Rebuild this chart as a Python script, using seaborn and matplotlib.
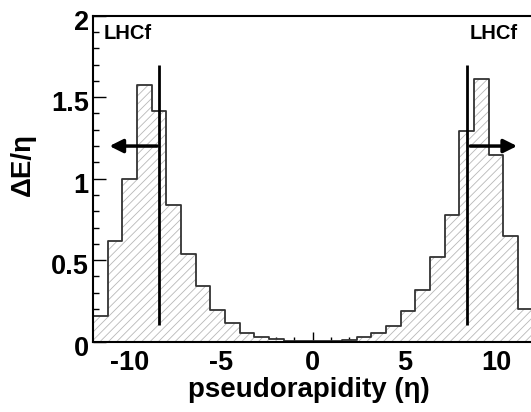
import numpy as np
import pandas as pd
import matplotlib
matplotlib.use("Agg")
import matplotlib.pyplot as plt
import matplotlib.ticker as mticker
import matplotlib.transforms as mtransforms
import seaborn as sns

# data: energy flow per unit pseudorapidity, 0.8 wide bins from -12 to 12
BIN_EDGES = list(np.linspace(-12, 12, 31))
DE_DETA = [0.16, 0.62, 1.0, 1.575, 1.415, 0.84, 0.535, 0.34, 0.197, 0.115,
           0.056, 0.027, 0.015, 0.006, 0.003, 0.002, 0.004, 0.009, 0.027, 0.054,
           0.099, 0.187, 0.32, 0.52, 0.777, 1.295, 1.61, 1.145, 0.65, 0.199]

# LHCf acceptance markers
LHCF_ETA = 8.4
LINE_Y = (0.1, 1.7)
ARROW_Y = 1.2
ARROW_LEFT = (-8.5, -11.1)
ARROW_RIGHT = (8.6, 11.15)
LABEL_POS = [(-11.42, 1.89), (8.58, 1.89)]

edges = np.array(BIN_EDGES)
centers = (edges[:-1] + edges[1:]) / 2
df = pd.DataFrame({"eta": centers, "dE": DE_DETA})

sns.set_style("ticks")
plt.rcParams["font.family"] = ["Liberation Sans", "DejaVu Sans"]
plt.rcParams.update({
    "font.weight": "bold",
    "axes.unicode_minus": False,
    "hatch.linewidth": 0.6,
    "text.color": "black",
    "axes.labelcolor": "black",
    "xtick.color": "black",
    "ytick.color": "black",
})

fig = plt.figure(figsize=(5.31, 4.12), dpi=100)
ax = fig.add_axes([0.1751, 0.1706, 0.828, 0.7915])

# hatched fill
sns.histplot(data=df, x="eta", weights="dE", bins=BIN_EDGES, element="step",
             fill=True, facecolor="white", edgecolor="#b8b8b8", hatch="////",
             linewidth=0, ax=ax)
# outline
sns.histplot(data=df, x="eta", weights="dE", bins=BIN_EDGES, element="step",
             fill=False, color="#333333", linewidth=1.3, ax=ax)

ax.vlines([-LHCF_ETA, LHCF_ETA], LINE_Y[0], LINE_Y[1], color="black", linewidth=2)
for x0, x1 in [ARROW_LEFT, ARROW_RIGHT]:
    ax.annotate("", xy=(x1, ARROW_Y), xytext=(x0, ARROW_Y),
                arrowprops=dict(arrowstyle="-|>", color="black", lw=2.5,
                                mutation_scale=20, shrinkA=0, shrinkB=0))
for x, y in LABEL_POS:
    ax.text(x, y, "LHCf", ha="left", va="center", fontsize=14.5, fontweight="bold")

ax.set_xlim(-12, 12)
ax.set_ylim(0, 2)
ax.xaxis.set_major_locator(mticker.MultipleLocator(5))
ax.xaxis.set_minor_locator(mticker.MultipleLocator(1))
ax.yaxis.set_major_locator(mticker.MultipleLocator(0.5))
ax.yaxis.set_minor_locator(mticker.MultipleLocator(0.1))
ax.yaxis.set_major_formatter(mticker.FuncFormatter(lambda v, _: f"{v:g}"))
ax.tick_params(which="both", direction="in", labelsize=19.5, color="black")
ax.tick_params(axis="y", which="major", length=9, width=1, pad=3)
ax.tick_params(axis="y", which="minor", length=4.5, width=1)
ax.tick_params(axis="x", which="major", length=7, width=1, pad=6)
ax.tick_params(axis="x", which="minor", length=3.6, width=1)
for s in ax.spines.values():
    s.set_linewidth(1.5)
    s.set_color("black")

# ROOT-like: y labels sit a touch below their ticks
shift = mtransforms.ScaledTranslation(0, -3 / 72, fig.dpi_scale_trans)
for lbl in ax.get_yticklabels():
    lbl.set_transform(lbl.get_transform() + shift)

ax.set_xlabel("pseudorapidity (η)", fontsize=20, fontweight="bold")
ax.set_ylabel("ΔE/η", fontsize=20, fontweight="bold")
ax.xaxis.set_label_coords(0.491, -0.108)
ax.yaxis.set_label_coords(-0.13, 0.542)

fig.savefig("out.png", dpi=100)
